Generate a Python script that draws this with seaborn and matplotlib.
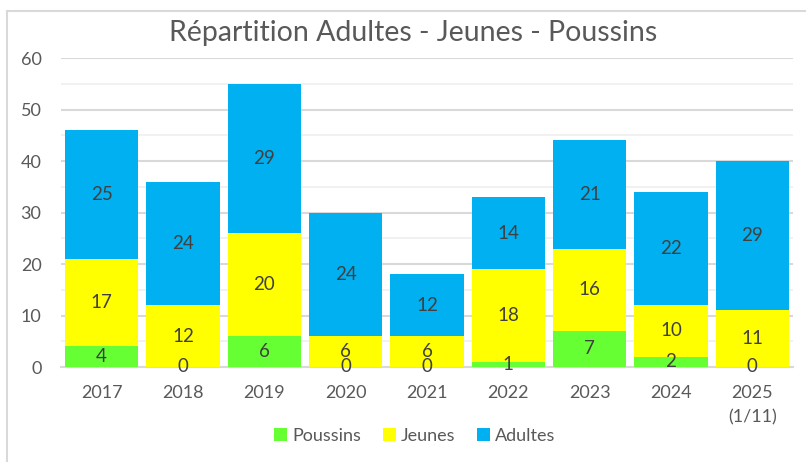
import matplotlib
matplotlib.use("Agg")
import matplotlib.pyplot as plt
from matplotlib.lines import Line2D
from matplotlib.patches import Patch
import seaborn as sns
import pandas as pd
import numpy as np

years = ["2017", "2018", "2019", "2020", "2021", "2022", "2023", "2024", "2025\n(1/11)"]
poussins = [4, 0, 6, 0, 0, 1, 7, 2, 0]
jeunes = [17, 12, 20, 6, 6, 18, 16, 10, 11]
adultes = [25, 24, 29, 24, 12, 14, 21, 22, 29]
series_names = ["Poussins", "Jeunes", "Adultes"]
colors = ["#66FF33", "#FFFF00", "#00B0F0"]
title = "Répartition Adultes - Jeunes - Poussins"

sns.set_theme(style="white")
plt.rcParams['font.family'] = ['Lato', 'DejaVu Sans']

fig = plt.figure(figsize=(8.06, 4.62), dpi=100)
ax = fig.add_axes([61/806, 1-367/462, (793-61)/806, (367-58)/462])

df = pd.DataFrame({"year": years, "Poussins": poussins, "Jeunes": jeunes, "Adultes": adultes})
bottom = np.zeros(len(years))
for name, col in zip(series_names, colors):
    vals = df[name].to_numpy()
    sns.barplot(data=df, x="year", y=name, ax=ax, color=col, bottom=bottom,
                width=0.9, saturation=1, zorder=3, linewidth=0, order=years)
    cont = ax.containers[-1]
    ax.bar_label(cont, labels=[str(v) for v in vals], label_type="center",
                 fontsize=13.5, color="#404040", zorder=5)
    bottom = bottom + vals

ax.set_xlim(-0.5, 8.5)
ax.set_ylim(0, 60)
ax.set_yticks(range(0, 61, 10))
ax.set_yticks(range(5, 60, 10), minor=True)
ax.grid(axis="y", which="major", color="#D9D9D9", linewidth=1.5, zorder=0)
ax.grid(axis="y", which="minor", color="#F0F0F0", linewidth=1.3, zorder=0)
ax.set_axisbelow(True)
for s in ["left", "right", "top"]:
    ax.spines[s].set_visible(False)
ax.spines["bottom"].set_color("#D9D9D9")
ax.spines["bottom"].set_linewidth(1.5)
ax.set_xlabel("")
ax.set_ylabel("")
ax.set_xticks(range(len(years)), labels=years)
ax.tick_params(axis="x", length=0, pad=13, labelsize=13, labelcolor="#595959")
ax.tick_params(axis="y", which="both", length=0, pad=14, labelsize=13, labelcolor="#595959")
ax.set_facecolor("white")

fig.text(413/806, 1-33/462, title, ha="center", va="center", fontsize=20.5, color="#595959")

handles = [Patch(facecolor=c, edgecolor="none") for c in colors]
fig.legend(handles, series_names, loc="center", bbox_to_anchor=(415/806, 1-436/462), ncol=3,
           frameon=False, fontsize=13, labelcolor="#595959", handlelength=0.7, handleheight=0.7,
           handletextpad=0.3, columnspacing=1.2)

# chart frame
fig.add_artist(Line2D([6.5/806, 6.5/806], [0, 1-11/462], color="#D9D9D9", linewidth=1.5, transform=fig.transFigure))
fig.add_artist(Line2D([6.5/806, 1], [1-11/462, 1-11/462], color="#D9D9D9", linewidth=1.5, transform=fig.transFigure))

fig.canvas.draw()
for lab in ax.get_xticklabels():
    lab.set_linespacing(1.6)

fig.savefig("out.png", dpi=100, facecolor="white")
